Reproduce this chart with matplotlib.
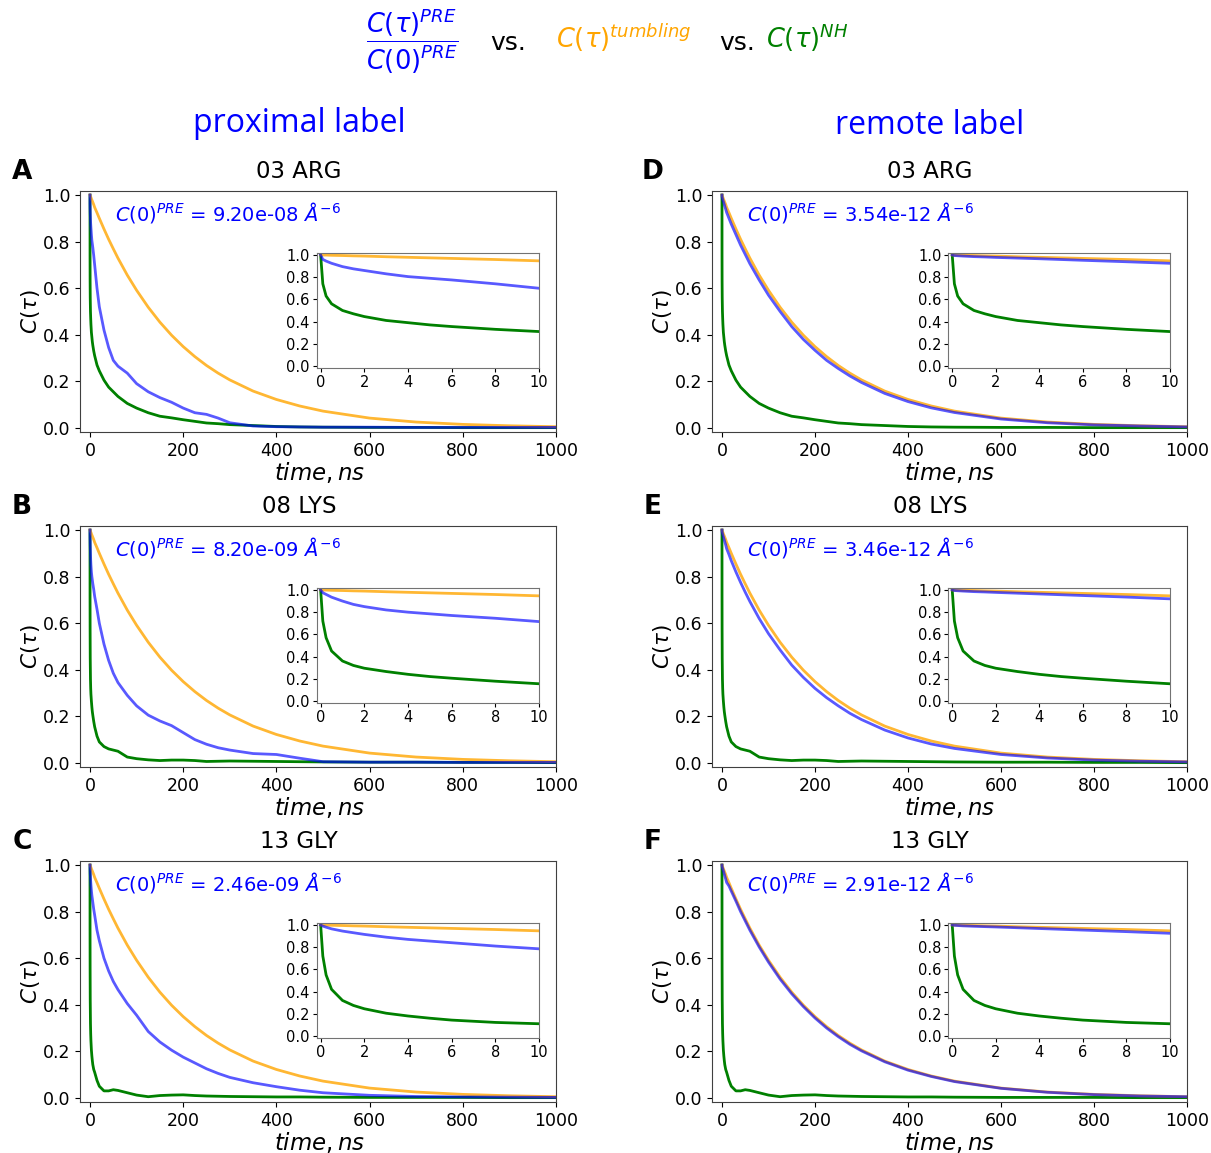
import numpy as np
import matplotlib
matplotlib.use("Agg")
import matplotlib.pyplot as plt

W, H = 1211, 1153

# time grid (ns), shared by all curves
t_ns = [0, 0.1, 0.25, 0.5, 1, 1.5,
        2, 3, 4, 5, 6, 8, 10,
        15, 20, 30, 40, 50, 60, 80, 100,
        125, 150, 175, 200, 225, 250, 275, 300,
        350, 400, 450, 500, 600, 700, 800, 900, 1000]

# overall tumbling correlation function (same in every panel)
tumbling = [1.0, 0.999, 0.999, 0.997, 0.995, 0.992,
            0.99, 0.984, 0.979, 0.974, 0.969, 0.959, 0.947,
            0.924, 0.9, 0.854, 0.81, 0.769, 0.729, 0.656, 0.591,
            0.518, 0.454, 0.398, 0.349, 0.306, 0.268, 0.235, 0.206,
            0.158, 0.122, 0.094, 0.072, 0.042, 0.025, 0.015, 0.009, 0.005]

# N-H vector correlation functions per residue
nh_arg = [1.0, 0.74, 0.63, 0.56, 0.5, 0.47,
          0.445, 0.41, 0.39, 0.37, 0.355, 0.33, 0.31,
          0.27, 0.245, 0.205, 0.175, 0.155, 0.135, 0.105, 0.085,
          0.065, 0.05, 0.043, 0.035, 0.028, 0.021, 0.018, 0.014,
          0.01, 0.006, 0.004, 0.003, 0.002, 0.002, 0.001, 0.001, 0.001]
nh_lys = [1.0, 0.72, 0.57, 0.45, 0.36, 0.32,
          0.295, 0.265, 0.24, 0.22, 0.205, 0.178, 0.155,
          0.115, 0.09, 0.07, 0.06, 0.055, 0.05, 0.025, 0.018,
          0.013, 0.01, 0.012, 0.012, 0.01, 0.006, 0.007, 0.008,
          0.007, 0.006, 0.005, 0.004, 0.003, 0.003, 0.002, 0.002, 0.001]
nh_gly = [1.0, 0.72, 0.55, 0.42, 0.32, 0.275,
          0.245, 0.205, 0.18, 0.16, 0.143, 0.122, 0.11,
          0.075, 0.05, 0.03, 0.03, 0.035, 0.032, 0.022, 0.012,
          0.005, 0.01, 0.012, 0.013, 0.01, 0.008, 0.007, 0.006,
          0.005, 0.004, 0.004, 0.003, 0.002, 0.002, 0.002, 0.001, 0.001]

# normalised PRE correlation functions, proximal label
pre_prox_arg = [1.0, 0.96, 0.945, 0.925, 0.895, 0.875,
                0.86, 0.83, 0.805, 0.79, 0.775, 0.74, 0.70,
                0.6, 0.52, 0.42, 0.345, 0.29, 0.265, 0.235, 0.19,
                0.155, 0.13, 0.11, 0.085, 0.065, 0.058, 0.042, 0.022,
                0.008, 0.005, 0.004, 0.003, 0.003, 0.002, 0.002, 0.002, 0.002]
pre_prox_lys = [1.0, 0.975, 0.96, 0.935, 0.9, 0.87,
                0.85, 0.82, 0.8, 0.785, 0.77, 0.745, 0.715,
                0.66, 0.6, 0.51, 0.44, 0.385, 0.345, 0.29, 0.245,
                0.205, 0.18, 0.16, 0.13, 0.1, 0.08, 0.065, 0.055,
                0.04, 0.036, 0.02, 0.005, 0.003, 0.003, 0.002, 0.002, 0.002]
pre_prox_gly = [1.0, 0.99, 0.98, 0.965, 0.945, 0.93,
                0.915, 0.89, 0.87, 0.855, 0.84, 0.81, 0.785,
                0.72, 0.675, 0.6, 0.545, 0.5, 0.465, 0.405, 0.355,
                0.285, 0.24, 0.205, 0.175, 0.15, 0.125, 0.105, 0.088,
                0.065, 0.048, 0.033, 0.022, 0.011, 0.006, 0.004, 0.003, 0.002]

# normalised PRE correlation functions, remote label
pre_rem_arg = [1.0, 0.995, 0.993, 0.99, 0.985, 0.982,
               0.978, 0.972, 0.966, 0.959, 0.952, 0.939, 0.925,
               0.9, 0.875, 0.83, 0.785, 0.745, 0.705, 0.635, 0.57,
               0.5, 0.435, 0.38, 0.333, 0.29, 0.255, 0.223, 0.195,
               0.148, 0.113, 0.086, 0.066, 0.038, 0.022, 0.013, 0.008, 0.004]
pre_rem_lys = [1.0, 0.995, 0.993, 0.99, 0.985, 0.982,
               0.978, 0.971, 0.964, 0.957, 0.95, 0.936, 0.92,
               0.895, 0.868, 0.82, 0.775, 0.733, 0.693, 0.62, 0.555,
               0.485, 0.42, 0.367, 0.32, 0.28, 0.245, 0.213, 0.186,
               0.141, 0.107, 0.081, 0.062, 0.036, 0.021, 0.012, 0.007, 0.004]
pre_rem_gly = [1.0, 0.997, 0.995, 0.992, 0.988, 0.985,
               0.982, 0.975, 0.968, 0.961, 0.954, 0.94, 0.925,
               0.91, 0.888, 0.845, 0.8, 0.76, 0.72, 0.648, 0.583,
               0.51, 0.447, 0.392, 0.343, 0.3, 0.263, 0.23, 0.202,
               0.155, 0.119, 0.092, 0.07, 0.041, 0.024, 0.014, 0.008, 0.005]

residues = ["03 ARG", "08 LYS", "13 GLY"]
nh_curves = [nh_arg, nh_lys, nh_gly]
pre_prox = [pre_prox_arg, pre_prox_lys, pre_prox_gly]
pre_rem = [pre_rem_arg, pre_rem_lys, pre_rem_gly]
c0_prox = ["9.20e-08", "8.20e-09", "2.46e-09"]
c0_rem = ["3.54e-12", "3.46e-12", "2.91e-12"]
letters_prox = ["A", "B", "C"]
letters_rem = ["D", "E", "F"]

fig = plt.figure(figsize=(W / 100, H / 100), dpi=100)


def rect(x0, y0, x1, y1):
    # pixel box -> figure fraction
    return [x0 / W, 1 - y1 / H, (x1 - x0) / W, (y1 - y0) / H]


def ftext(x, y, s, **kw):
    fig.text(x / W, 1 - y / H, s, **kw)


def draw_panel(left, right, top, bottom, ins_left, ins_right, pre, nh, c0):
    ax = fig.add_axes(rect(left, top, right, bottom))
    ax.plot(t_ns, nh, color="green", lw=2)
    ax.plot(t_ns, tumbling, color="orange", lw=2, alpha=0.8)
    ax.plot(t_ns, pre, color="blue", lw=2, alpha=0.65)
    ax.set_xlim(-20.6, 1000)
    ax.set_ylim(-0.019, 1.016)
    ax.set_xticks([0, 200, 400, 600, 800, 1000])
    ax.set_yticks([0.0, 0.2, 0.4, 0.6, 0.8, 1.0])
    ax.tick_params(labelsize=12.5)
    for s in ax.spines.values():
        s.set_color("0.25")
    ax.text(0.072, 0.91, r"$C(0)^{PRE}$ = " + c0 + r" $Å^{-6}$",
            transform=ax.transAxes, color="blue", fontsize=14, va="center")

    # zoomed inset over the first 10 ns
    ins = fig.add_axes(rect(ins_left, top + 62, ins_right, top + 177))
    ins.plot(t_ns, nh, color="green", lw=2)
    ins.plot(t_ns, tumbling, color="orange", lw=2, alpha=0.8)
    ins.plot(t_ns, pre, color="blue", lw=2, alpha=0.65)
    ins.set_xlim(-0.18, 10.01)
    ins.set_ylim(-0.021, 1.015)
    ins.set_xticks([0, 2, 4, 6, 8, 10])
    ins.set_yticks([0.0, 0.2, 0.4, 0.6, 0.8, 1.0])
    ins.tick_params(labelsize=10.5, length=3, pad=2)
    for s in ins.spines.values():
        s.set_color("0.45")


row_tops = [191.3, 526.3, 861.3]
for i in range(3):
    top = row_tops[i]
    bottom = top + 241
    # left column: proximal label
    draw_panel(80.4, 556, top, bottom, 316.7, 539.3, pre_prox[i], nh_curves[i], c0_prox[i])
    ftext(299, top - 20, residues[i], fontsize=16.5, ha="center", va="center")
    ftext(22, top - 19, letters_prox[i], fontsize=19, fontweight="bold", ha="center", va="center")
    ftext(30, top + 120, r"$C(\tau)$", fontsize=15.5, rotation=90, ha="center", va="center")
    ftext(320, bottom + 40, r"$time, ns$", fontsize=16.5, ha="center", va="center")
    # right column: remote label
    draw_panel(712.4, 1187, top, bottom, 948.3, 1170, pre_rem[i], nh_curves[i], c0_rem[i])
    ftext(930, top - 20, residues[i], fontsize=16.5, ha="center", va="center")
    ftext(653, top - 19, letters_rem[i], fontsize=19, fontweight="bold", ha="center", va="center")
    ftext(662, top + 120, r"$C(\tau)$", fontsize=15.5, rotation=90, ha="center", va="center")
    ftext(950, bottom + 40, r"$time, ns$", fontsize=16.5, ha="center", va="center")

ftext(299, 123, "proximal label", fontsize=23, family="Open Sans", color="blue", ha="center", va="center")
ftext(930, 125, "remote label", fontsize=23, family="Open Sans", color="blue", ha="center", va="center")

# figure header
ftext(412, 41, r"$\dfrac{C(\tau)^{PRE}}{C(0)^{PRE}}$", fontsize=18.5, color="blue", ha="center", va="center")
ftext(490, 43, "vs.", fontsize=18, color="black", ha="left", va="center")
ftext(556, 38, r"$C(\tau)^{tumbling}$", fontsize=18.5, color="orange", ha="left", va="center")
ftext(719, 43, "vs.", fontsize=18, color="black", ha="left", va="center")
ftext(766, 38, r"$C(\tau)^{NH}$", fontsize=18.5, color="green", ha="left", va="center")

fig.savefig("out.png", dpi=100)
